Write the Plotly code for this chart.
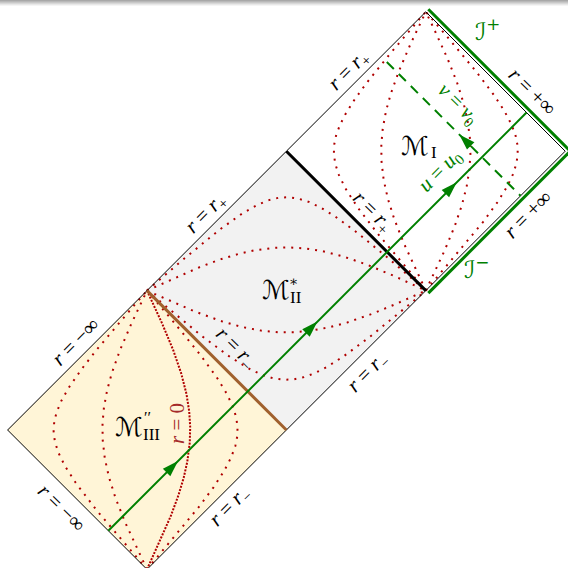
import numpy as np
import plotly.graph_objects as go

# Penrose diagram of the Reissner-Nordstrom spacetime in compactified coordinates (X, T).
# Every patch is a unit diamond |X - Xc| + |T - Tc| <= 1.
region_names = ["III", "II", "I"]
region_cx = [0.0, 1.0, 2.0]
region_ct = [0.0, 1.0, 2.0]
region_fill = ["#fff5d7", "#f2f2f2", "#ffffff"]

# constant-r curves: offset of each curve from the patch centre along its mid-line
curve_offsets_I = [-0.66, -0.32, 0.32, 0.66]    # timelike, patch I
curve_offsets_II = [-0.64, -0.30, 0.31, 0.67]   # spacelike, patch II
curve_offsets_III = [-0.67, -0.32, 0.65]        # timelike, patch III
r0_offset_III = 0.31                             # r = 0 singularity inside patch III

u0 = -0.445       # T - X on the outgoing ray u = u0
v0 = 4.36         # T + X on the ingoing ray v = v0
v0_start_x = 1.72  # X where the ingoing ray is started

RED = "#b00000"
GREEN = "#008000"
BROWN = "#a0602e"


def lens(d, n=400):
    """Constant-r curve through the diamond, local coords (x, t), crossing t=0 at x=d."""
    c = np.tan(np.pi / 4 * (1 + d)) ** 2
    vp = np.linspace(1e-5, np.pi / 2 - 1e-5, n)
    up = -np.arctan(c / np.tan(vp))
    a = 4 * vp / np.pi - 1
    b = 1 + 4 * up / np.pi
    return (a - b) / 2, (a + b) / 2


def diamond(cx, ct):
    return [cx, cx + 1, cx, cx - 1, cx], [ct + 1, ct, ct - 1, ct, ct + 1]


fig = go.Figure()

# patch fills
for name, cx, ct, col in zip(region_names, region_cx, region_ct, region_fill):
    xs, ts = diamond(cx, ct)
    fig.add_trace(go.Scatter(x=xs, y=ts, mode="lines", fill="toself", fillcolor=col,
                             line=dict(width=0), hoverinfo="skip", showlegend=False))

# dotted constant-r curves
dots = dict(color=RED, width=2, dash="2px,6px")
for d in curve_offsets_I:
    x, t = lens(d)
    fig.add_trace(go.Scatter(x=x + region_cx[2], y=t + region_ct[2], mode="lines",
                             line=dots, hoverinfo="skip", showlegend=False))
for d in curve_offsets_II:
    x, t = lens(d)
    fig.add_trace(go.Scatter(x=t + region_cx[1], y=x + region_ct[1], mode="lines",
                             line=dots, hoverinfo="skip", showlegend=False))
for d in curve_offsets_III:
    x, t = lens(d)
    fig.add_trace(go.Scatter(x=x + region_cx[0], y=t + region_ct[0], mode="lines",
                             line=dots, hoverinfo="skip", showlegend=False))
x, t = lens(r0_offset_III)
fig.add_trace(go.Scatter(x=x + region_cx[0], y=t + region_ct[0], mode="lines",
                         line=dict(color=RED, width=2, dash="2px,1.4px"),
                         hoverinfo="skip", showlegend=False))

# thin outlines
for cx, ct in zip(region_cx, region_ct):
    xs, ts = diamond(cx, ct)
    fig.add_trace(go.Scatter(x=xs, y=ts, mode="lines", line=dict(color="black", width=1),
                             hoverinfo="skip", showlegend=False))

# horizons: r = r+ between I and II, r = r- between II and III
cI, tI = region_cx[2], region_ct[2]
cII, tII = region_cx[1], region_ct[1]
fig.add_trace(go.Scatter(x=[cI - 1, cI], y=[tI, tI - 1], mode="lines",
                         line=dict(color="black", width=3), hoverinfo="skip", showlegend=False))
fig.add_trace(go.Scatter(x=[cII - 1, cII], y=[tII, tII - 1], mode="lines",
                         line=dict(color=BROWN, width=3), hoverinfo="skip", showlegend=False))

# null infinities, drawn just outside patch I
off = 0.018
fig.add_trace(go.Scatter(x=[cI + off, cI + 1 + off + 0.02], y=[tI + 1 + off, tI + off - 0.02],
                         mode="lines", line=dict(color=GREEN, width=3),
                         hoverinfo="skip", showlegend=False))
fig.add_trace(go.Scatter(x=[cI + off, cI + 1 + off + 0.02], y=[tI - 1 - off, tI - off + 0.02],
                         mode="lines", line=dict(color=GREEN, width=3),
                         hoverinfo="skip", showlegend=False))

# outgoing ray u = u0: from r = -inf (T + X = -1) to scri+ (T + X = 5)
ux = np.array([(-1 - u0) / 2, (5 - u0) / 2])
fig.add_trace(go.Scatter(x=ux, y=ux + u0, mode="lines", line=dict(color=GREEN, width=2),
                         hoverinfo="skip", showlegend=False))
# arrowheads at the middle of the ray's stretch in each patch
cross = [(-1 - u0) / 2, (1 - u0) / 2, (3 - u0) / 2, (5 - u0) / 2]
mids = np.array([(cross[i] + cross[i + 1]) / 2 for i in range(3)])
fig.add_trace(go.Scatter(x=mids, y=mids + u0, mode="markers",
                         marker=dict(symbol="arrow", size=17, angle=45, color=GREEN,
                                     line=dict(width=0)),
                         hoverinfo="skip", showlegend=False))

# ingoing ray v = v0, ending on the past horizon of patch I (T - X = -1)
vx = np.array([v0_start_x, (v0 + 1) / 2])
fig.add_trace(go.Scatter(x=vx, y=v0 - vx, mode="lines",
                         line=dict(color=GREEN, width=2, dash="10px,7px"),
                         hoverinfo="skip", showlegend=False))
vm = np.array([2.24])
fig.add_trace(go.Scatter(x=vm, y=v0 - vm, mode="markers",
                         marker=dict(symbol="arrow", size=17, angle=-45, color=GREEN,
                                     line=dict(width=0)),
                         hoverinfo="skip", showlegend=False))

# labels
FONT = "Liberation Serif, DejaVu Serif, serif"
SCRIPT = "DejaVu Serif, DejaVu Sans, serif"


def label(x, y, text, angle=0, color="black", size=21, family=FONT):
    fig.add_annotation(x=x, y=y, text=text, textangle=angle, showarrow=False,
                       font=dict(family=family, size=size, color=color))


rp = "<i>r</i> = <i>r</i><sub>+</sub>"
rm = "<i>r</i> = <i>r</i><sub>\u2212</sub>"
label(1.449, 2.583, rp, -45)
label(2.762, 2.432, "<i>r</i> = +\u221e", 45)
label(2.733, 1.550, "<i>r</i> = +\u221e", -45)
label(2.439, 2.869, "<i>\u2110</i><sup>+</sup>", 0, GREEN, 24, SCRIPT)
label(2.367, 1.162, "<i>\u2110</i><sup>\u2212</sup>", 0, GREEN, 24, SCRIPT)
label(2.231, 2.339, "<i>v</i> = <i>v</i><sub>0</sub>", 45, GREEN)
label(2.102, 1.858, "<i>u</i> = <i>u</i><sub>0</sub>", -45, GREEN)
label(1.621, 1.564, rp, 45)
label(0.423, 1.557, rp, -45)
label(0.638, 0.588, rm, 45)
label(1.585, 0.416, rm, -45)
label(-0.516, 0.631, "<i>r</i> = \u2212\u221e", -45)
label(0.215, 0.05, "<i>r</i> = 0", -90, "#a52a2a")
label(-0.610, -0.560, "<i>r</i> = \u2212\u221e", 45)
label(0.595, -0.545, rm, -45)

# patch names: script M with roman index (and mark)
label(1.923, 2.037, "<i>\u2133</i>", 0, "black", 26, SCRIPT)
label(2.062, 1.990, "I", 0, "black", 17)
label(0.925, 1.004, "<i>\u2133</i>", 0, "black", 26, SCRIPT)
label(1.068, 0.950, "II", 0, "black", 17)
label(1.058, 1.066, "\u2217", 0, "black", 14)
label(-0.129, 0.022, "<i>\u2133</i>", 0, "black", 26, SCRIPT)
label(0.035, -0.032, "III", 0, "black", 17)
label(0.004, 0.092, "\u2032\u2032", 0, "black", 16)

# faint shading strip along the top edge
shade = ["#a8a8a8", "#b8b8b8", "#c8c8c8", "#d8d8d8", "#e8e8e8", "#f5f5f5"]
for i, col in enumerate(shade):
    fig.add_shape(type="rect", xref="paper", yref="paper", x0=0, x1=1,
                  y0=1 - (i + 1) / 568, y1=1 - i / 568, fillcolor=col,
                  line=dict(width=0), layer="above")

S = 139.4
fig.update_layout(
    width=568, height=568, margin=dict(l=0, r=0, t=0, b=0),
    paper_bgcolor="white", plot_bgcolor="white", showlegend=False,
    xaxis=dict(range=[-147 / S, (568 - 147) / S], visible=False, fixedrange=True),
    yaxis=dict(range=[(430 - 568) / S, 430 / S], visible=False, fixedrange=True),
)

fig.write_html("out.html")
